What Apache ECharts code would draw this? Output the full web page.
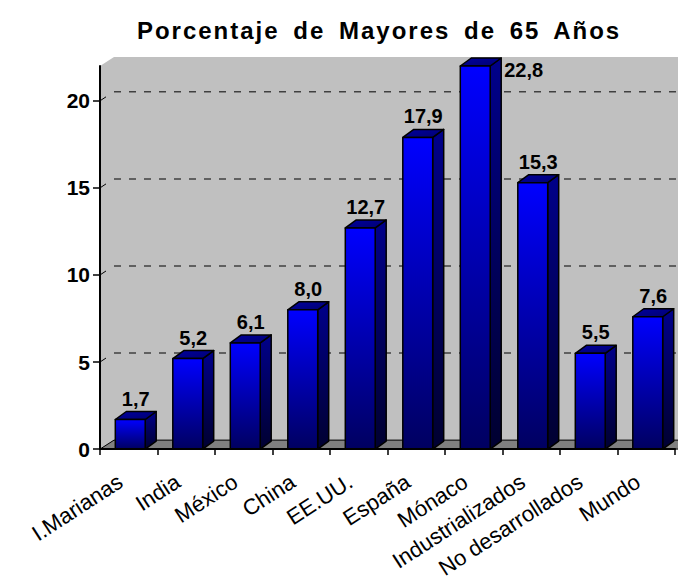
<!DOCTYPE html>
<html>
<head>
<meta charset="utf-8">
<script src="https://cdn.jsdelivr.net/npm/echarts@6/dist/echarts.min.js"></script>
<style>
  html, body { margin: 0; padding: 0; background: #fff; }
  #chart { width: 678px; height: 581px; }
</style>
</head>
<body>
<div id="chart"></div>
<script>
const categories = ['I.Marianas', 'India', 'México', 'China', 'EE.UU.', 'España', 'Mónaco', 'Industrializados', 'No desarrollados', 'Mundo'];
const values = [1.7, 5.2, 6.1, 8.0, 12.7, 17.9, 22.8, 15.3, 5.5, 7.6];
const yTicks = [0, 5, 10, 15, 20];
const yMax = 22;

const font = 'Arial, "Liberation Sans", sans-serif';
const DX = 11, DY = 8;   // bar depth
const WX = 14, WY = 9;   // wall / floor depth

const fmt = (v) => v.toFixed(1).replace('.', ',');

// back wall, floor and dashed gridlines
function renderWall(params, api) {
  const cs = params.coordSys;
  const x0 = cs.x, y0 = cs.y, x1 = cs.x + cs.width + 30, y1 = cs.y + cs.height;
  const children = [
    {
      type: 'polygon',
      shape: { points: [[x0, y1], [x0, y0], [x0 + WX, y0 - WY], [x1, y0 - WY], [x1, y1]] },
      style: { fill: '#c0c0c0' },
    },
    {
      type: 'polygon',
      shape: { points: [[x0, y1], [x0 + WX, y1 - WY], [x1, y1 - WY], [x1, y1]] },
      style: { fill: '#808080', stroke: '#000', lineWidth: 1 },
    },
  ];
  yTicks.forEach((t) => {
    const y = api.coord([0, t])[1];
    if (t > 0) {
      children.push({
        type: 'line',
        shape: { x1: x0 + WX, y1: y - WY, x2: x1, y2: y - WY },
        style: { stroke: '#404040', lineWidth: 1.5, lineDash: [7, 8] },
      });
      children.push({
        type: 'line',
        shape: { x1: x0, y1: y, x2: x0 + 6, y2: y - 4 },
        style: { stroke: '#000', lineWidth: 1 },
      });
    }
  });
  return { type: 'group', children };
}

// 3d looking bars
function renderBar(params, api) {
  const i = api.value(0);
  const v = api.value(1);
  const top = api.coord([i, Math.min(v, yMax)]);
  const base = api.coord([i, 0]);
  const band = api.size([1, 0])[0];
  const w = band * 0.52;
  const L = top[0] - w / 2 + 1.5, R = L + w, T = top[1], B = base[1];
  const edge = { stroke: '#000', lineWidth: 1.5, lineJoin: 'round' };
  const children = [
    {
      type: 'polygon',
      shape: { points: [[R, T], [R + DX, T - DY], [R + DX, B - DY], [R, B]] },
      style: Object.assign({
        fill: new echarts.graphic.LinearGradient(0, 0, 0, 1, [
          { offset: 0, color: '#00008a' }, { offset: 1, color: '#000030' },
        ]),
      }, edge),
    },
    {
      type: 'polygon',
      shape: { points: [[L, T], [R, T], [R + DX, T - DY], [L + DX, T - DY]] },
      style: Object.assign({
        fill: new echarts.graphic.LinearGradient(0, 0, 1, 1, [
          { offset: 0, color: '#0000a0' }, { offset: 1, color: '#000070' },
        ]),
      }, edge),
    },
    {
      type: 'rect',
      shape: { x: L, y: T, width: w, height: B - T },
      style: Object.assign({
        fill: new echarts.graphic.LinearGradient(0, 0, 0, 1, [
          { offset: 0, color: '#0000ff' }, { offset: 1, color: '#000060' },
        ]),
      }, edge),
    },
  ];
  const over = v > yMax;
  children.push({
    type: 'text',
    style: {
      text: fmt(v),
      x: over ? R + DX + 3 : L + w / 2 + DX / 2,
      y: over ? T + 4 : T - DY - 13,
      align: over ? 'left' : 'center',
      verticalAlign: 'middle',
      fill: '#000',
      font: 'bold 20px ' + font,
    },
  });
  return { type: 'group', children };
}

const chart = echarts.init(document.getElementById('chart'), null, { renderer: 'svg' });

chart.setOption({
  animation: false,
  backgroundColor: '#fff',
  title: {
    text: 'Porcentaje de Mayores de 65 Años',
    left: 374,
    top: 13,
    textAlign: 'center',
    textStyle: { fontFamily: font, fontSize: 24, fontWeight: 'bold', color: '#000' },
  },
  grid: { left: 100, right: 3, top: 66, bottom: 130 },
  xAxis: {
    type: 'category',
    data: categories,
    z: 10,
    axisLine: { lineStyle: { color: '#000', width: 2 } },
    axisTick: { show: true, length: 6, lineStyle: { color: '#000', width: 1.5 } },
    axisLabel: {
      interval: 0,
      rotate: 33,
      margin: 25,
      padding: [0, 10, 0, 0],
      color: '#000',
      fontFamily: font,
      fontSize: 22,
    },
  },
  yAxis: {
    type: 'value',
    min: 0,
    max: yMax,
    interval: 5,
    z: 10,
    axisLine: { show: true, lineStyle: { color: '#000', width: 2 } },
    axisTick: { show: true, length: 7, customValues: yTicks, lineStyle: { color: '#000', width: 1.5 } },
    axisLabel: {
      customValues: yTicks,
      margin: 10,
      color: '#000',
      fontFamily: font,
      fontSize: 21,
      fontWeight: 'bold',
    },
    splitLine: { show: false },
  },
  series: [
    {
      type: 'custom',
      z: 1,
      renderItem: renderWall,
      data: [[0, 0]],
      silent: true,
    },
    {
      type: 'custom',
      z: 3,
      renderItem: renderBar,
      encode: { x: 0, y: 1 },
      data: values.map((v, i) => [i, v]),
    },
  ],
});

// the title in the original is spaced out a little
chart.getDom().querySelectorAll('text').forEach((t) => {
  if (t.textContent.indexOf('Porcentaje') === 0) {
    t.setAttribute('letter-spacing', '2');
    t.setAttribute('word-spacing', '5');
  }
});
</script>
</body>
</html>
